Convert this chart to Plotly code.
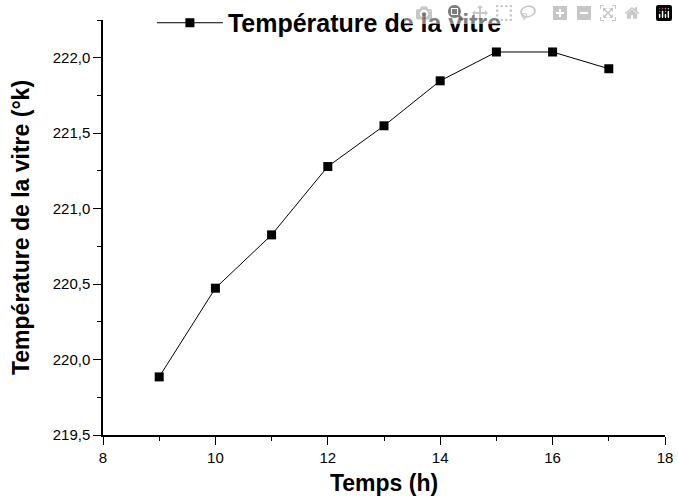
import plotly.graph_objects as go

temps_h = [9, 10, 11, 12, 13, 14, 15, 16, 17]
temperature_vitre = [219.885, 220.473, 220.826, 221.279, 221.549, 221.847, 222.038, 222.038, 221.927]

fig = go.Figure()
fig.add_trace(go.Scatter(
    x=temps_h, y=temperature_vitre, mode="lines+markers",
    name="Température de la vitre",
    line=dict(color="black", width=1),
    marker=dict(symbol="square", size=9, color="black"),
))

FONT = "Liberation Sans, Arial"
axis_common = dict(
    showgrid=False, zeroline=False, showline=True, linecolor="black", linewidth=1.5,
    ticks="outside", ticklen=8, tickwidth=1.2, tickcolor="black",
    tickfont=dict(family=FONT, size=15, color="black"),
    ticklabeloverflow="allow",
)

fig.update_layout(
    width=678, height=503,
    margin=dict(l=103, r=13, t=20, b=68, autoexpand=False),
    paper_bgcolor="white", plot_bgcolor="white",
    separators=", ",
    showlegend=True,
    legend=dict(
        x=0.087, y=0.9928, xanchor="left", yanchor="middle",
        bgcolor="rgba(0,0,0,0)", itemwidth=66,
        font=dict(family=FONT, size=25, color="black", weight="bold"),
    ),
    xaxis=dict(
        range=[8, 18], dtick=2, tick0=8,
        minor=dict(ticks="outside", ticklen=4, dtick=1, tickcolor="black"),
        title=dict(text="<b>Temps (h)</b>", font=dict(family=FONT, size=23, color="black"), standoff=10),
        **axis_common,
    ),
    yaxis=dict(
        range=[219.5, 222.25], dtick=0.5, tick0=219.5, tickformat=".1f",
        minor=dict(ticks="outside", ticklen=4, dtick=0.25, tickcolor="black"),
        title=dict(text="<b>Température de la vitre (°k)</b>", font=dict(family=FONT, size=23, color="black"), standoff=17),
        **axis_common,
    ),
)

# remove the page's default body margin so the figure sits at the window's top-left corner
fig.write_html(
    "out.html",
    post_script="document.body.style.margin='0';document.body.style.overflow='hidden';",
)
